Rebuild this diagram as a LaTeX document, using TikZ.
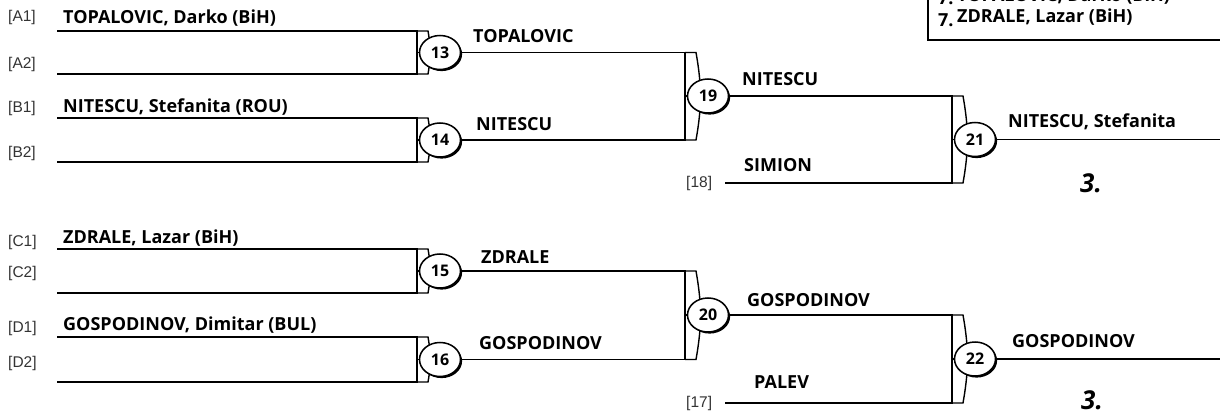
\documentclass[tikz,border=0pt]{standalone}
\usepackage{fontspec}
\setmainfont{Open Sans}
\newfontfamily\slotfont{Liberation Sans}
\usetikzlibrary{shapes.geometric,shadows,calc}

\begin{document}
\begin{tikzpicture}[x=1pt, y=-1pt,
    wire/.style={line width=1.8pt},
    bracketcap/.style={line width=1.4pt},
    player/.style={anchor=base west, inner sep=0pt, font=\fontsize{18}{21}\selectfont\bfseries},
    slot/.style={anchor=west, inner sep=0pt, text=black!80, font=\slotfont\fontsize{15.5}{18}\selectfont},
    match/.style={ellipse, draw, line width=1.5pt, fill=white, minimum width=41pt, minimum height=34pt, inner sep=0pt,
        font=\fontsize{16}{18}\selectfont\bfseries,
        drop shadow={shadow xshift=1.6pt, shadow yshift=-1.6pt, opacity=1, fill=black}},
    place/.style={anchor=base west, inner sep=0pt, font=\fontsize{26}{28}\selectfont\bfseries\itshape}
]
\useasboundingbox (0,0) rectangle (1220,414);
\clip (0,0) rectangle (1220,414);

% Draw slots
\coordinate (a1) at (57,31);
\coordinate (a2) at (57,74);
\coordinate (b1) at (57,118);
\coordinate (b2) at (57,162);
\coordinate (c1) at (57,249);
\coordinate (c2) at (57,293);
\coordinate (d1) at (57,337);
\coordinate (d2) at (57,382);
\coordinate (s18) at (725,183);
\coordinate (s17) at (725,403);

% Bracket corners
\coordinate (k13) at (417,52.5);
\coordinate (k14) at (417,140);
\coordinate (k15) at (417,271);
\coordinate (k16) at (417,359.5);
\coordinate (k19) at (685,96);
\coordinate (k20) at (685,315);
\coordinate (k21) at (952,139.5);
\coordinate (k22) at (952,359);
\coordinate (e21) at (1225,139.5);
\coordinate (e22) at (1225,359);

% Slot labels
\foreach \lab/\y in {A1/17, A2/64, B1/108, B2/153, C1/242, C2/273, D1/328, D2/363}
    \node[slot] (l\lab) at (8,\y) {[\lab]};
\node[slot] (l18) at (686,183) {[18]};
\node[slot] (l17) at (686,403) {[17]};

% Brackets
\foreach \k/\t/\b in {k13/a1/a2, k14/b1/b2, k15/c1/c2, k16/d1/d2, k19/k13/k14, k20/k15/k16, k21/k19/s18, k22/k20/s17} {
    \draw[wire] (\t) -| (\k) |- (\b);
    \draw[bracketcap] (\t -| \k) -- ++(11,0) to[bend left=10] ($(\b -| \k)+(11,0)$) -- (\b -| \k);
}
\draw[wire] (k21) -- (e21);
\draw[wire] (k22) -- (e22);

% Match numbers
\foreach \m in {13,14,15,16,19,20,21,22}
    \node[match] (m\m) at ($(k\m)+(23,0)$) {\m};

% Players
\node[player] (pa1) at (63,24) {TOPALOVIC, Darko (BiH)};
\node[player] (pb1) at (63,113) {NITESCU, Stefanita (ROU)};
\node[player] (pc1) at (63,243) {ZDRALE, Lazar (BiH)};
\node[player] (pd1) at (63,330) {GOSPODINOV, Dimitar (BUL)};
\node[player] (p18) at (744,172) {SIMION};
\node[player] (p17) at (754,388) {PALEV};

% Winners
\node[player] (w13) at (473,43) {TOPALOVIC};
\node[player] (w14) at (476,131) {NITESCU};
\node[player] (w15) at (481,263) {ZDRALE};
\node[player] (w16) at (479,349) {GOSPODINOV};
\node[player] (w19) at (742,86) {NITESCU};
\node[player] (w20) at (747,306) {GOSPODINOV};
\node[player] (w21) at (1008,128) {NITESCU, Stefanita};
\node[player] (w22) at (1012,347) {GOSPODINOV};

% Places
\node[place] (r21) at (1080,193) {3.};
\node[place] (r22) at (1081,409) {3.};

% Ranking box
\draw[line width=2.2pt] (928,-5) |- (1230,40);
\node[player] (q1) at (938,5) {7.};
\node[player] (n1) at (957,2) {TOPALOVIC, Darko (BiH)};
\node[player] (q2) at (938,27) {7.};
\node[player] (n2) at (957,23) {ZDRALE, Lazar (BiH)};

\end{tikzpicture}
\end{document}
